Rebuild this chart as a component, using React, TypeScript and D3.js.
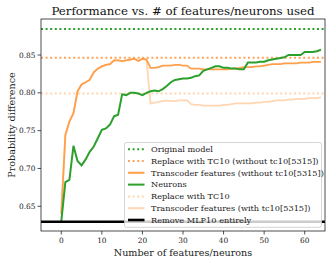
import React from 'react';
import * as d3 from 'd3';

// values, x = number of features/neurons (0..64)
const transcoderWithout = [
  0.640, 0.744, 0.762, 0.773, 0.802, 0.811, 0.814, 0.817, 0.827, 0.832,
  0.835, 0.837, 0.838, 0.843, 0.843, 0.842, 0.843, 0.844, 0.845, 0.842,
  0.845, 0.844, 0.833, 0.833, 0.834, 0.836, 0.836, 0.836, 0.837, 0.837,
  0.836, 0.836, 0.832, 0.832, 0.832, 0.831, 0.831, 0.831, 0.831, 0.831,
  0.831, 0.831, 0.832, 0.832, 0.833, 0.834, 0.834, 0.834, 0.835, 0.835,
  0.836, 0.837, 0.838, 0.838, 0.838, 0.839, 0.839, 0.839, 0.839, 0.840,
  0.840, 0.840, 0.841, 0.841, 0.841,
];

const transcoderWith = [
  0.640, 0.744, 0.762, 0.773, 0.802, 0.811, 0.814, 0.817, 0.827, 0.832,
  0.835, 0.837, 0.838, 0.843, 0.843, 0.842, 0.843, 0.844, 0.845, 0.842,
  0.845, 0.844, 0.786, 0.787, 0.788, 0.789, 0.790, 0.789, 0.789, 0.790,
  0.790, 0.790, 0.785, 0.784, 0.784, 0.783, 0.783, 0.783, 0.783, 0.783,
  0.784, 0.784, 0.785, 0.786, 0.786, 0.786, 0.786, 0.786, 0.787, 0.787,
  0.788, 0.788, 0.789, 0.790, 0.790, 0.790, 0.791, 0.791, 0.792, 0.792,
  0.792, 0.793, 0.793, 0.793, 0.794,
];

const neurons = [
  0.630, 0.682, 0.685, 0.730, 0.710, 0.704, 0.712, 0.722, 0.729, 0.740,
  0.751, 0.753, 0.758, 0.769, 0.771, 0.798, 0.797, 0.800, 0.800, 0.799,
  0.797, 0.800, 0.802, 0.803, 0.802, 0.805, 0.809, 0.814, 0.817, 0.818,
  0.819, 0.819, 0.820, 0.822, 0.823, 0.829, 0.831, 0.833, 0.835, 0.835,
  0.833, 0.833, 0.832, 0.832, 0.831, 0.831, 0.840, 0.840, 0.840, 0.841,
  0.841, 0.843, 0.844, 0.845, 0.846, 0.847, 0.850, 0.850, 0.850, 0.850,
  0.854, 0.854, 0.854, 0.855, 0.857,
];

const originalModel = 0.8845;
const replaceWithout = 0.8465;
const replaceWith = 0.799;
const removeMLP = 0.6295;

const xTicks = [0, 10, 20, 30, 40, 50, 60];
const yTicks = [0.65, 0.7, 0.75, 0.8, 0.85];

const legendItems = [
  { label: 'Original model', color: '#2ca02c', dash: true },
  { label: 'Replace with TC10 (without tc10[5315])', color: '#ffa35a', dash: true },
  { label: 'Transcoder features (without tc10[5315])', color: '#ff9f4a', dash: false },
  { label: 'Neurons', color: '#2ca02c', dash: false },
  { label: 'Replace with TC10', color: '#ffd6b2', dash: true },
  { label: 'Transcoder features (with tc10[5315])', color: '#ffd6b2', dash: false },
  { label: 'Remove MLP10 entirely', color: '#000', dash: false },
];

const W = 332;
const H = 263;
const left = 41;
const right = 325;
const top = 19;
const bottom = 231;
const font = "'DejaVu Serif', serif";

export default function App() {
  const x = d3.scaleLinear().domain([-5, 65]).range([left, right]);
  const y = d3.scaleLinear().domain([0.6173, 0.8976]).range([bottom, top]);

  const line = d3.line<number>()
    .x((_, i) => x(i))
    .y(d => y(d));

  const hline = (v: number, color: string, dotted: boolean, w: number) => (
    <line x1={left} x2={right} y1={y(v)} y2={y(v)} stroke={color}
      strokeWidth={w} strokeDasharray={dotted ? '2,2.6' : undefined} />
  );

  const lgX = 124.5;
  const lgY = 142.5;
  const rowH = 11.8;

  return (
    <div style={{ position: 'fixed', left: 0, top: 0 }}>
      <svg width={W} height={H} style={{ display: 'block', background: '#fff' }}>
        <defs>
          <clipPath id="plot">
            <rect x={left} y={top} width={right - left} height={bottom - top} />
          </clipPath>
        </defs>

        <g clipPath="url(#plot)">
          {hline(originalModel, '#2ca02c', true, 2)}
          {hline(replaceWithout, '#ffa35a', true, 2)}
          {hline(replaceWith, '#ffd6b2', true, 2)}
          <path d={line(transcoderWith) || ''} fill="none" stroke="#ffd6b2" strokeWidth={1.8} />
          <path d={line(transcoderWithout) || ''} fill="none" stroke="#ff9f4a" strokeWidth={1.8} />
          <path d={line(neurons) || ''} fill="none" stroke="#2ca02c" strokeWidth={2} />
          {hline(removeMLP, '#000', false, 2.6)}
        </g>

        {/* spines */}
        <rect x={left} y={top} width={right - left} height={bottom - top}
          fill="none" stroke="#222" strokeWidth={0.8} />

        {/* x axis */}
        {xTicks.map(t => (
          <g key={t}>
            <line x1={x(t)} x2={x(t)} y1={bottom} y2={bottom + 3.5} stroke="#222" strokeWidth={0.8} />
            <text x={x(t)} y={bottom + 12.3} textAnchor="middle" fontFamily={font} fontSize={7.4} fill="#222">{t}</text>
          </g>
        ))}
        <text x={(left + right) / 2} y={255.5} textAnchor="middle" fontFamily={font} fontSize={9.6} fill="#222">
          Number of features/neurons
        </text>

        {/* y axis */}
        {yTicks.map(t => (
          <g key={t}>
            <line x1={left - 3.5} x2={left} y1={y(t)} y2={y(t)} stroke="#222" strokeWidth={0.8} />
            <text x={left - 5.5} y={y(t) + 2.6} textAnchor="end" fontFamily={font} fontSize={7.4} fill="#222">
              {t.toFixed(2)}
            </text>
          </g>
        ))}
        <text transform={`translate(14.5,${(top + bottom) / 2}) rotate(-90)`} textAnchor="middle"
          fontFamily={font} fontSize={9.6} fill="#222">
          Probability difference
        </text>

        {/* title */}
        <text x={(left + right) / 2} y={15} textAnchor="middle" fontFamily={font} fontSize={11.8} fill="#111">
          Performance vs. # of features/neurons used
        </text>

        {/* legend */}
        <rect x={lgX} y={lgY} width={197} height={84.8} rx={2} fill="#fff" fillOpacity={0.8}
          stroke="#ccc" strokeWidth={0.8} />
        {legendItems.map((d, i) => {
          const cy = lgY + 6.7 + i * rowH;
          return (
            <g key={d.label}>
              <line x1={lgX + 3.5} x2={lgX + 20} y1={cy} y2={cy} stroke={d.color}
                strokeWidth={d.color === '#000' ? 2.6 : 2}
                strokeDasharray={d.dash ? '2,2.6' : undefined} />
              <text x={lgX + 26.5} y={cy + 2.8} fontFamily={font} fontSize={8.2} fill="#222">{d.label}</text>
            </g>
          );
        })}
      </svg>
    </div>
  );
}
